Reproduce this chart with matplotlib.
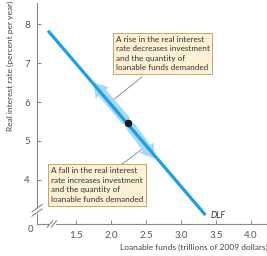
import matplotlib
matplotlib.use("Agg")
import matplotlib.pyplot as plt
from matplotlib.patches import FancyArrowPatch

# Demand for loanable funds curve (trillions of 2009 dollars, percent per year)
dlf_x = [1.10, 3.35]
dlf_y = [7.83, 3.10]

# Point on the curve
point_x = [2.25]
point_y = [5.45]

# Movement arrows along the curve: (tail, head)
rise_arrow = [(2.25, 5.45), (1.72, 6.56)]
fall_arrow = [(2.25, 5.45), (2.65, 4.48)]

# Leader lines from the boxes to the curve
rise_leader_x = [2.03, 2.44]
rise_leader_y = [6.05, 6.64]
fall_leader_x = [2.16, 2.49]
fall_leader_y = [4.41, 4.85]

x_ticks = [1.5, 2.0, 2.5, 3.0, 3.5, 4.0]
y_ticks = [4, 5, 6, 7, 8]

rise_text = ("A rise in the real interest\nrate decreases investment\n"
             "and the quantity of\nloanable funds demanded")
fall_text = ("A fall in the real interest\nrate increases investment\n"
             "and the quantity of\nloanable funds demanded")

plt.rcParams['font.family'] = ['Lato', 'DejaVu Sans']

fig = plt.figure(figsize=(2.67, 2.56), dpi=100)
ax = fig.add_axes([37 / 267, 32 / 256, 230 / 267, 221 / 256])
ax.set_xlim(0.943, 4.23)
ax.set_ylim(2.87, 8.54)

# Axes styling
for side in ['top', 'right']:
    ax.spines[side].set_visible(False)
for side in ['left', 'bottom']:
    ax.spines[side].set_color('#888888')
    ax.spines[side].set_linewidth(0.8)
ax.set_xticks(x_ticks)
ax.set_yticks(y_ticks)
ax.set_xticklabels([f"{v:.1f}" for v in x_ticks])
ax.tick_params(direction='in', length=3, width=0.7, color='#888888',
               labelsize=7, labelcolor='#555555', pad=5)

# Movement arrows (drawn under the curve)
for tail, head in [rise_arrow, fall_arrow]:
    arr = FancyArrowPatch(tail, head,
                          arrowstyle='simple,head_width=1.25,head_length=1.0,tail_width=0.7',
                          mutation_scale=10, color='#a6d9f4', lw=0, zorder=2)
    ax.add_patch(arr)

# DLF curve and point
ax.plot(dlf_x, dlf_y, color='#1ba1e2', lw=2.3, solid_capstyle='butt', zorder=3)
ax.plot(point_x, point_y, 'o', color='#1a1a1a', ms=4.5, zorder=4)
ax.text(dlf_x[1] + 0.07, dlf_y[1], 'DLF', fontsize=6.3, style='italic',
        color='#333333', va='center', ha='left')

# Annotation boxes with leader lines
box_style = dict(boxstyle='square,pad=0.35', fc='#fdf1d5', ec='#c9a56a', lw=0.7)
ax.plot(rise_leader_x, rise_leader_y, color='#777777', lw=0.55, zorder=1)
ax.text(2.066, 7.70, rise_text, fontsize=5.9, color='#333333', va='top', ha='left',
        bbox=box_style, linespacing=1.42, zorder=5)

ax.plot(fall_leader_x, fall_leader_y, color='#777777', lw=0.55, zorder=1)
ax.text(1.137, 4.33, fall_text, fontsize=5.9, color='#333333', va='top', ha='left',
        bbox=box_style, linespacing=1.42, zorder=5)

# Axis break marks
ax.plot([0, 0], [0.055, 0.068], transform=ax.transAxes, color='white', lw=2, clip_on=False, zorder=6)
ax.plot([-0.022, 0.022], [0.035, 0.068], transform=ax.transAxes, color='#777777', lw=0.7, clip_on=False, zorder=7)
ax.plot([-0.022, 0.022], [0.055, 0.088], transform=ax.transAxes, color='#777777', lw=0.7, clip_on=False, zorder=7)
ax.plot([0.058, 0.072], [0, 0], transform=ax.transAxes, color='white', lw=2, clip_on=False, zorder=6)
ax.plot([0.045, 0.068], [-0.014, 0.014], transform=ax.transAxes, color='#777777', lw=0.7, clip_on=False, zorder=7)
ax.plot([0.062, 0.085], [-0.014, 0.014], transform=ax.transAxes, color='#777777', lw=0.7, clip_on=False, zorder=7)

# Labels
fig.text(31 / 267, 1 - 230 / 256, '0', fontsize=7, color='#555555', ha='center', va='center')
fig.text(194 / 267, 1 - 247 / 256, 'Loanable funds (trillions of 2009 dollars)',
         fontsize=6.0, color='#444444', ha='center', va='center')
fig.text(10 / 267, 1 - 66 / 256, 'Real interest rate (percent per year)',
         fontsize=6.0, color='#444444', ha='center', va='center', rotation=90)

fig.savefig('out.png', dpi=100)
